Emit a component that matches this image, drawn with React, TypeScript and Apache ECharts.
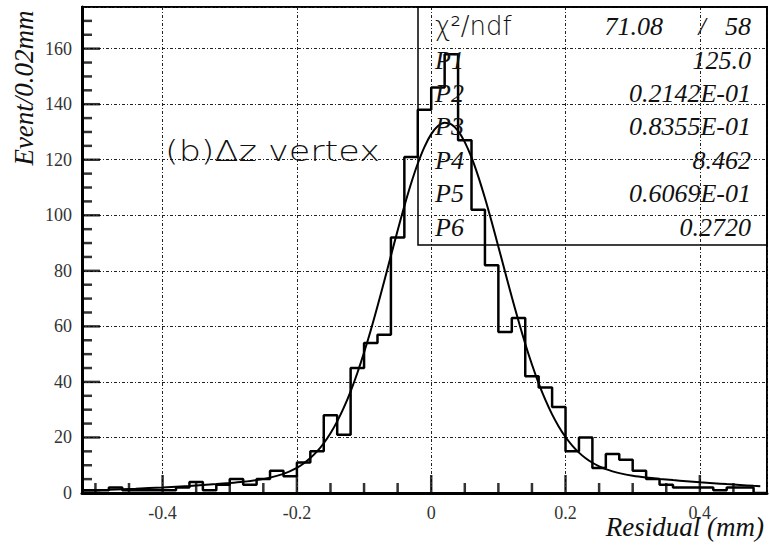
import React, { useEffect, useRef } from 'react';
import * as echarts from 'echarts';

// ---- data ----
const binStart = -0.52;
const binWidth = 0.02;
const counts = [
  1, 1, 2, 1, 1, 1, 1, 2, 4, 1,
  3, 5, 3, 5, 8, 6, 11, 15, 28, 21,
  45, 54, 57, 92, 121, 138, 146, 158, 127, 102,
  82, 58, 63, 42, 38, 31, 15, 20, 9, 14,
  12, 8, 5, 3, 2, 2, 2, 1, 2, 2,
  0,
];

const curveX = [
  -0.52, -0.48, -0.44, -0.4, -0.36, -0.32, -0.3, -0.28, -0.26, -0.24, -0.22, -0.2,
  -0.19, -0.18, -0.17, -0.16, -0.15, -0.14, -0.13, -0.12, -0.11, -0.1,
  -0.09, -0.08, -0.07, -0.06, -0.05, -0.04, -0.03, -0.02, -0.01, 0,
  0.01, 0.02, 0.03, 0.04, 0.05, 0.06, 0.07, 0.08, 0.09, 0.1,
  0.11, 0.12, 0.13, 0.14, 0.15, 0.16, 0.17, 0.18, 0.19, 0.2,
  0.21, 0.22, 0.23, 0.24, 0.25, 0.26, 0.27, 0.28, 0.3, 0.32,
  0.34, 0.36, 0.38, 0.4, 0.42, 0.44, 0.46, 0.48, 0.49,
];
const curveY = [
  0.87, 1.17, 1.55, 2.02, 2.56, 3.21, 3.59, 4.05, 4.65, 5.53, 6.89, 9.08,
  10.62, 12.56, 14.96, 17.92, 21.5, 25.78, 30.81, 36.62, 43.22, 50.59,
  58.63, 67.24, 76.23, 85.42, 94.53, 103.3, 111.44, 118.64, 124.65, 129.21,
  132.15, 133.35, 132.75, 130.39, 126.35, 120.82, 114.02, 106.2, 97.66, 88.7,
  79.58, 70.58, 61.92, 53.76, 46.26, 39.5, 33.52, 28.32, 23.88, 20.16,
  17.07, 14.54, 12.51, 10.89, 9.6, 8.59, 7.79, 7.15, 6.23, 5.58,
  5.08, 4.65, 4.26, 3.89, 3.54, 3.2, 2.88, 2.58, 2.44,
];

const xMajorTicks = [-0.4, -0.2, 0, 0.2, 0.4];
const xMinorTicks = [-0.5, -0.45, -0.35, -0.3, -0.25, -0.15, -0.1, -0.05, 0.05, 0.1, 0.15, 0.25, 0.3, 0.35, 0.45];
const yMajorTicks = [0, 20, 40, 60, 80, 100, 120, 140, 160];
const yMinorTicks = [5, 10, 15, 25, 30, 35, 45, 50, 55, 65, 70, 75, 85, 90, 95, 105, 110, 115, 125, 130, 135, 145, 150, 155, 165, 170];

const statNames = ['P1', 'P2', 'P3', 'P4', 'P5', 'P6'];
const statValues = ['125.0', '0.2142E-01', '0.8355E-01', '8.462', '0.6069E-01', '0.2720'];
const chi2Value = '71.08';
const ndfValue = '58';

const titleText = '(b)\u0394z vertex';
const yTitle = 'Event/0.02mm';
const xTitle = 'Residual (mm)';

const X_MIN = -0.52;
const X_MAX = 0.5;
const Y_MIN = 0;
const Y_MAX = 175;

const serif = "'Liberation Serif', 'Times New Roman', serif";
const sans = "'DejaVu Sans', sans-serif";
const gridDash: any = [3, 2, 1, 2];
const TICK_COLOR = '#000';

// tick marks: thin rectangle symbols placed through the axes' scales
function tickSeries(values: number[], axis: 'x' | 'y', len: number) {
  const w = 2.5;
  return {
    type: 'scatter',
    clip: false,
    data: values.map((v) => (axis === 'x' ? [v, Y_MIN] : [X_MIN, v])),
    symbol: 'rect',
    symbolSize: axis === 'x' ? [w, len] : [len, w],
    symbolOffset: axis === 'x' ? [0, -len / 2] : [len / 2, 0],
    itemStyle: { color: TICK_COLOR },
  };
}

export default function App() {
  const ref = useRef<HTMLDivElement>(null);

  useEffect(() => {
    document.body.style.margin = '0';
    if (!ref.current) return;
    const chart = echarts.init(ref.current, undefined, { renderer: 'svg' });

    const histData: number[][] = counts.map((c, i) => [
      Math.round((binStart + i * binWidth) * 1000) / 1000,
      c,
    ]);
    histData.push([
      Math.round((binStart + counts.length * binWidth) * 1000) / 1000,
      counts[counts.length - 1],
    ]);
    const curveData = curveX.map((x, i) => [x, curveY[i]]);

    const textStyle = (text: string, align: string, italicSerif: boolean) => ({
      text,
      fontFamily: italicSerif ? serif : sans,
      fontStyle: italicSerif ? 'italic' : 'normal',
      fontWeight: italicSerif ? 'normal' : 200,
      fontSize: 26,
      fill: '#111',
      textAlign: align,
      textVerticalAlign: 'middle',
    });

    const statGraphics: any[] = [];
    const rowTop = 60;
    const rowStep = 33.4;
    statNames.forEach((name, i) => {
      statGraphics.push({ type: 'text', x: 435, y: rowTop + i * rowStep, z: 100, style: textStyle(name, 'left', true) });
      statGraphics.push({ type: 'text', x: 751, y: rowTop + i * rowStep, z: 100, style: textStyle(statValues[i], 'right', true) });
    });

    const option: any = {
      animation: false,
      backgroundColor: '#fff',
      grid: {
        left: 82,
        right: 3,
        top: 7,
        bottom: 53,
        show: true,
        borderColor: '#000',
        borderWidth: 2,
      },
      xAxis: {
        type: 'value',
        min: X_MIN,
        max: X_MAX,
        position: 'bottom',
        axisLine: { show: true, onZero: false, lineStyle: { color: '#000', width: 3 } },
        axisTick: { show: false },
        axisLabel: {
          show: true,
          customValues: xMajorTicks,
          margin: 11,
          fontFamily: serif,
          fontSize: 18,
          color: '#333',
        },
        splitLine: { show: true, lineStyle: { color: '#222', width: 1, type: gridDash } },
      },
      yAxis: {
        type: 'value',
        min: Y_MIN,
        max: Y_MAX,
        interval: 20,
        position: 'left',
        axisLine: { show: true, onZero: false, lineStyle: { color: '#000', width: 3 } },
        axisTick: { show: false },
        axisLabel: {
          show: true,
          customValues: yMajorTicks,
          margin: 10,
          fontFamily: serif,
          fontSize: 18,
          color: '#333',
        },
        splitLine: { show: true, lineStyle: { color: '#222', width: 1, type: gridDash } },
      },
      series: [
        tickSeries(xMajorTicks, 'x', 18),
        tickSeries(xMinorTicks, 'x', 10),
        tickSeries(yMajorTicks, 'y', 18),
        tickSeries(yMinorTicks, 'y', 10),
        {
          type: 'line',
          name: 'histogram',
          step: 'end',
          data: histData,
          showSymbol: false,
          lineStyle: { color: '#000', width: 2.5 },
          z: 3,
        },
        {
          type: 'line',
          name: 'fit',
          data: curveData,
          smooth: 0.3,
          showSymbol: false,
          lineStyle: { color: '#000', width: 2 },
          z: 4,
        },
      ],
      graphic: [
        {
          type: 'rect',
          z: 90,
          shape: { x: 418, y: 7, width: 349, height: 238 },
          style: { fill: 'none', stroke: '#000', lineWidth: 1.5 },
        },
        { type: 'text', x: 435, y: 26, z: 100, style: textStyle('\u03c7\u00b2/ndf', 'left', false) },
        { type: 'text', x: 663, y: 26, z: 100, style: textStyle(chi2Value, 'right', true) },
        { type: 'text', x: 702, y: 26, z: 100, style: textStyle('/', 'center', true) },
        { type: 'text', x: 751, y: 26, z: 100, style: textStyle(ndfValue, 'right', true) },
        ...statGraphics,
        {
          type: 'text',
          x: 165,
          y: 151,
          scaleX: 1.25,
          z: 100,
          style: {
            text: titleText,
            fontFamily: sans,
            fontWeight: 200,
            fontSize: 28,
            fill: '#111',
            textAlign: 'left',
            textVerticalAlign: 'middle',
          },
        },
        {
          type: 'text',
          x: 24,
          y: 88,
          rotation: Math.PI / 2,
          z: 100,
          style: {
            text: yTitle,
            fontFamily: serif,
            fontStyle: 'italic',
            fontSize: 27,
            fill: '#111',
            textAlign: 'center',
            textVerticalAlign: 'middle',
          },
        },
        {
          type: 'text',
          x: 764,
          y: 527,
          z: 100,
          style: {
            text: xTitle,
            fontFamily: serif,
            fontStyle: 'italic',
            fontSize: 27,
            fill: '#111',
            textAlign: 'right',
            textVerticalAlign: 'middle',
          },
        },
      ],
    };

    chart.setOption(option);
    return () => {
      chart.dispose();
    };
  }, []);

  return <div ref={ref} style={{ width: 770, height: 546 }} />;
}
